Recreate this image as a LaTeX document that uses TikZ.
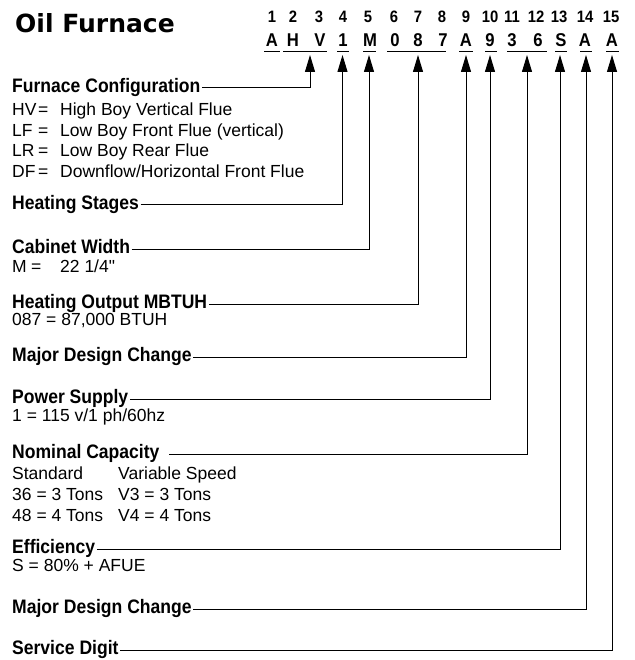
\documentclass[tikz,border=0pt]{standalone}
\usepackage{fontspec}
\setmainfont{Liberation Sans}
\newfontfamily\narrowsans[FakeStretch=0.9]{Liberation Sans}
\newfontfamily\heavysans{DejaVu Sans}
\usepackage{tikz}
\usetikzlibrary{arrows.meta}
\def\codebar(#1:#2){\draw[uline] (#1,52) -- (#2,52);}
\tikzset{
  heading/.style={anchor=west, inner xsep=1.5pt, inner ysep=0pt, text height=11pt, text depth=2pt,
    font=\narrowsans\bfseries\fontsize{19.5}{22}\selectfont},
  body/.style={anchor=base west, inner sep=0pt, font=\fontsize{17.5}{20.4}\selectfont},
  digit/.style={anchor=base, inner sep=0pt, font=\narrowsans\bfseries\fontsize{16.5}{18}\selectfont},
  codechar/.style={anchor=base, inner sep=0pt, font=\narrowsans\bfseries\fontsize{18.5}{20}\selectfont},
  uline/.style={line width=1pt},
  lead/.style={line width=1pt, -{Triangle[length=17pt,width=10pt]}}
}

\begin{document}
\begin{tikzpicture}[x=1pt, y=-1pt]
		%%%%% START %%%%%
		\useasboundingbox (0,0) rectangle (634,660);
		
		\node[anchor=base west, inner sep=0pt, font=\heavysans\bfseries\fontsize{25}{28}\selectfont] (title) at (15,32.3) {Oil Furnace};
		
		% position numbers
		\node[digit] (n1) at (272,22.5) {1};
		\node[digit] (n2) at (293,22.5) {2};
		\node[digit] (n3) at (319,22.5) {3};
		\node[digit] (n4) at (343,22.5) {4};
		\node[digit] (n5) at (368,22.5) {5};
		\node[digit] (n6) at (394,22.5) {6};
		\node[digit] (n7) at (418,22.5) {7};
		\node[digit] (n8) at (442,22.5) {8};
		\node[digit] (n9) at (466,22.5) {9};
		\node[digit] (n10) at (490,22.5) {10};
		\node[digit] (n11) at (512,22.5) {11};
		\node[digit] (n12) at (536,22.5) {12};
		\node[digit] (n13) at (559,22.5) {13};
		\node[digit] (n14) at (585,22.5) {14};
		\node[digit] (n15) at (611,22.5) {15};
		
		% model code
		\node[codechar] (c1) at (272,47) {A};
		\node[codechar] (c2) at (293,47) {H};
		\node[codechar] (c3) at (320,47) {V};
		\node[codechar] (c4) at (343,47) {1};
		\node[codechar] (c5) at (370,47) {M};
		\node[codechar] (c6) at (395,47) {0};
		\node[codechar] (c7) at (418,47) {8};
		\node[codechar] (c8) at (443,47) {7};
		\node[codechar] (c9) at (466,47) {A};
		\node[codechar] (c10) at (490,47) {9};
		\node[codechar] (c11) at (512,47) {3};
		\node[codechar] (c12) at (538,47) {6};
		\node[codechar] (c13) at (561,47) {S};
		\node[codechar] (c14) at (585,47) {A};
		\node[codechar] (c15) at (612,47) {A};
		
		\codebar(264:280)
		\codebar(283:327)
		\codebar(337:349)
		\codebar(363:376)
		\codebar(387:446)
		\codebar(459:473)
		\codebar(485:497)
		\codebar(507:547)
		\codebar(555:567)
		\codebar(580:592)
		\codebar(606:619)
		
		\coordinate (tcfg) at (310,55);
		\coordinate (tstage) at (342.5,55);
		\coordinate (twidth) at (369,55);
		\coordinate (toutput) at (418,55);
		\coordinate (tdesign) at (466,55);
		\coordinate (tpower) at (490,55);
		\coordinate (tcap) at (527,55);
		\coordinate (teff) at (560,55);
		\coordinate (tdesignb) at (586,55);
		\coordinate (tservice) at (612,55);
		
		% headings and their values
		\node[heading] (cfg) at (10.5,88) {Furnace Configuration};
		\node[body] (cfgtext) at (12,116) {\begin{tabular}[t]{@{}p{26pt}@{}p{22pt}@{}l@{}}
			HV & = & High Boy Vertical Flue\\
			LF & = & Low Boy Front Flue (vertical)\\
			LR & = & Low Boy Rear Flue\\
			DF & = & Downflow/Horizontal Front Flue
		\end{tabular}};
		
		\node[heading] (stages) at (10.5,205) {Heating Stages};
		
		\node[heading] (width) at (10.5,249) {Cabinet Width};
		\node[body] (widthtext) at (12,272) {\begin{tabular}[t]{@{}p{19pt}@{}p{29pt}@{}l@{}}M & = & 22 1/4\textquotedbl\end{tabular}};
		
		\node[heading] (output) at (10.5,304) {Heating Output MBTUH};
		\node[body] (outputtext) at (12,325) {087 = 87,000 BTUH};
		
		\node[heading] (design) at (10.5,357) {Major Design Change};
		
		\node[heading] (power) at (10.5,399) {Power Supply};
		\node[body] (powertext) at (12,421.5) {1 = 115 v/1 ph/60hz};
		
		\node[heading] (capacity) at (10.5,454) {Nominal Capacity\ \,};
		\node[body, font=\fontsize{17.5}{21}\selectfont] (captext) at (12,479.5) {\begin{tabular}[t]{@{}p{106pt}@{}l@{}}
			Standard & Variable Speed\\
			36 = 3 Tons & V3 = 3 Tons\\
			48 = 4 Tons & V4 = 4 Tons
		\end{tabular}};
		
		\node[heading] (eff) at (10.5,549) {Efficiency};
		\node[body] (efftext) at (12,571) {S = 80\% + AFUE};
		
		\node[heading] (designb) at (10.5,609) {Major Design Change};
		
		\node[heading] (service) at (10.5,650) {Service Digit};
		
		% leaders
		\draw[lead] (cfg.east) -| (tcfg);
		\draw[lead] (stages.east) -| (tstage);
		\draw[lead] (width.east) -| (twidth);
		\draw[lead] (output.east) -| (toutput);
		\draw[lead] (design.east) -| (tdesign);
		\draw[lead] (power.east) -| (tpower);
		\draw[lead] (capacity.east) -| (tcap);
		\draw[lead] (eff.east) -| (teff);
		\draw[lead] (designb.east) -| (tdesignb);
		\draw[lead] (service.east) -| (tservice);
		
		%%%%% END %%%%%
\end{tikzpicture}
\end{document}
